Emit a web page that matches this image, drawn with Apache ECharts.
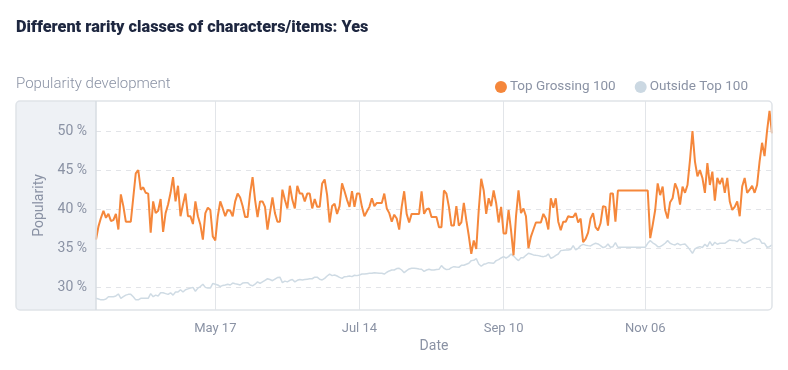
<!DOCTYPE html>
<html>
<head>
<meta charset="utf-8">
<script src="https://cdn.jsdelivr.net/npm/echarts@6/dist/echarts.min.js"></script>
<style>
html,body{margin:0;padding:0;background:#fff;}
#chart{width:788px;height:370px;}
</style>
</head>
<body>
<div id="chart"></div>
<script>
// ---- data ----
const startDate = '2019-03-30';
const seriesNames = ['Top Grossing 100', 'Outside Top 100'];
const topGrossing = [
36.1,37.8,38.9,39.8,38.9,39.4,38.5,38.6,39.4,37.4,41.9,40.4,38.4,38.4,38.4,41.5,44.6,45.0,42.5,42.8,
42.1,42.0,37.0,41.0,39.5,39.8,41.3,37.1,39.5,40.6,42.1,44.1,41.0,43.0,39.1,40.6,42.0,39.1,39.1,38.1,
41.0,39.1,38.0,36.1,39.5,40.2,39.9,36.5,36.0,39.1,41.0,40.1,39.1,39.9,39.8,39.1,41.0,42.0,41.5,40.4,
39.0,39.0,42.0,44.1,41.2,39.0,41.0,41.0,40.3,37.4,39.5,41.5,39.5,38.4,38.4,42.5,41.2,40.1,43.0,41.2,
40.1,43.0,42.0,42.0,41.0,42.0,42.0,40.1,41.3,40.3,40.3,43.3,43.8,41.8,38.3,40.4,40.7,39.4,40.4,43.3,
42.3,41.2,40.3,42.3,40.3,42.0,42.0,40.3,39.1,39.7,40.3,41.4,40.4,40.8,40.8,40.8,42.0,40.1,39.5,38.4,
39.3,38.8,37.4,40.3,42.3,39.4,38.3,39.4,39.4,39.4,39.4,42.3,39.4,40.0,40.1,39.0,39.0,39.0,37.7,37.7,
42.4,42.0,40.3,37.9,37.9,40.4,37.9,38.3,40.8,38.6,36.6,34.3,36.0,34.9,39.9,43.9,42.4,39.4,41.4,40.4,
42.4,40.8,38.3,40.3,36.9,36.9,39.9,37.3,34.1,39.1,42.4,39.5,40.1,39.1,35.0,36.5,37.4,38.3,38.3,38.3,
39.4,38.8,37.4,41.4,40.2,41.4,38.4,37.3,38.4,38.4,39.1,39.0,39.0,39.5,38.3,38.8,35.8,36.2,37.0,38.8,
39.5,37.7,37.3,38.2,40.4,40.3,37.9,42.0,42.0,38.4,42.4,42.4,42.4,42.4,42.4,42.4,42.4,42.4,42.4,42.4,
42.4,42.4,42.4,36.3,38.0,39.9,43.3,41.8,42.9,39.9,38.8,40.9,41.4,43.3,42.5,40.6,42.9,42.1,43.1,46.3,
50.0,46.1,44.2,45.0,44.0,42.1,45.9,43.1,44.8,41.1,44.0,43.2,44.0,42.1,44.0,41.0,39.9,40.3,41.0,39.1,
42.9,44.0,42.1,42.5,43.0,42.1,43.1,46.1,48.5,46.8,50.0,52.6,49.7
];
const outsideTop = [
28.6,28.5,28.4,28.4,28.5,28.8,28.8,28.8,28.9,29.15,28.6,28.8,29.0,29.1,29.1,28.8,28.4,28.4,28.6,28.6,
28.6,28.6,29.2,28.8,29.0,28.9,29.3,29.3,29.2,29.1,29.3,29.0,29.4,29.4,29.7,29.4,29.7,29.8,29.9,30.0,
29.5,29.9,30.1,30.4,30.0,29.9,29.9,30.5,30.4,30.3,30.1,30.25,30.3,30.4,30.3,30.55,30.45,30.4,30.3,30.55,
30.6,30.6,30.3,30.2,30.4,30.7,30.5,30.7,30.9,31.1,31.0,30.85,31.05,31.25,31.3,30.6,30.8,30.7,30.9,31.0,
30.7,30.9,31.0,30.95,31.0,31.05,31.1,31.1,31.3,31.3,31.03,30.94,31.15,31.45,31.7,31.5,31.58,31.45,31.28,31.15,
31.37,31.4,31.45,31.37,31.55,31.5,31.58,31.7,31.7,31.75,31.8,31.8,31.88,31.84,31.8,31.8,31.7,31.93,32.1,32.22,
32.22,32.4,32.44,32.22,31.88,32.14,32.35,32.44,32.44,32.4,32.35,32.31,32.05,32.22,32.31,32.22,32.22,32.27,32.3,32.78,
32.44,32.27,32.3,32.52,32.65,32.6,32.56,32.82,32.82,32.95,33.08,33.42,33.46,33.68,32.99,32.7,32.95,33.03,33.16,33.12,
33.08,33.42,33.55,33.76,33.93,33.76,33.93,34.27,34.0,33.68,33.42,33.8,33.8,34.1,34.36,34.27,34.15,34.1,34.06,33.97,
33.93,34.0,34.27,33.72,33.85,34.1,34.27,34.7,34.74,34.79,34.79,34.83,35.34,34.79,35.0,35.34,35.5,35.4,35.34,35.3,
35.5,35.64,35.55,35.34,35.08,35.2,35.55,35.13,35.2,35.73,35.13,35.13,35.13,35.13,35.13,35.13,35.13,35.13,35.13,35.13,
35.13,35.13,35.64,35.98,35.7,35.51,35.21,35.21,35.4,35.64,35.98,35.64,35.5,35.43,35.64,35.43,35.5,35.56,35.21,34.79,
34.36,34.91,35.1,35.21,35.09,35.51,35.21,35.85,35.34,35.77,35.51,35.64,35.64,35.64,35.85,36.07,36.0,35.98,35.85,36.2,
35.77,35.64,35.8,35.98,36.15,36.28,36.2,36.15,35.64,35.64,35.13,35.2,35.43
];
const xTickLabels = ['May 17', 'Jul 14', 'Sep 10', 'Nov 06'];
const yTickValues = [30, 35, 40, 45, 50];

// ---- build categories (one per day) ----
const monthNames = ['Jan','Feb','Mar','Apr','May','Jun','Jul','Aug','Sep','Oct','Nov','Dec'];
function dayLabel(d) {
  const dd = String(d.getUTCDate()).padStart(2, '0');
  return monthNames[d.getUTCMonth()] + ' ' + dd;
}
const categories = [];
{
  const d0 = new Date(startDate + 'T00:00:00Z');
  for (let i = 0; i < topGrossing.length; i++) {
    const d = new Date(d0.getTime() + i * 86400000);
    categories.push(dayLabel(d));
  }
}
const showTick = (idx, val) => xTickLabels.indexOf(categories[idx]) >= 0;

const FONT = 'Roboto, "Noto Sans", sans-serif';
const GREY = '#8a92a4';

const chart = echarts.init(document.getElementById('chart'), null, {renderer: 'canvas'});
chart.setOption({
  animation: false,
  backgroundColor: '#ffffff',
  textStyle: {fontFamily: FONT},
  title: [
    {text: 'Different rarity classes of characters/items: Yes', left: 11, top: 15,
     textStyle: {fontFamily: FONT, fontSize: 16.3, fontWeight: 900, color: '#1e2740'}},
    {text: 'Popularity development', left: 11, top: 72,
     textStyle: {fontFamily: FONT, fontSize: 15, fontWeight: 300, color: GREY}}
  ],
  legend: {
    data: seriesNames,
    right: 35, top: 75,
    icon: 'circle', itemWidth: 12, itemHeight: 12, itemGap: 19,
    textStyle: {fontFamily: FONT, fontSize: 13.5, color: GREY, padding: [0, 0, 0, -2]}
  },
  grid: {left: 96, right: 16, top: 101, bottom: 60},
  graphic: [
    {type: 'rect', z: -10, silent: true,
     shape: {x: 16, y: 101, width: 80, height: 209, r: [4, 0, 0, 4]},
     style: {fill: '#eef1f5'}},
    {type: 'rect', z: 100, silent: true,
     shape: {x: 16, y: 101, width: 756, height: 209, r: 4},
     style: {fill: 'none', stroke: '#dfe3e8', lineWidth: 1.5}},
    {type: 'line', z: 100, silent: true,
     shape: {x1: 96, y1: 101, x2: 96, y2: 310},
     style: {stroke: '#d7dce2', lineWidth: 1.5}}
  ],
  xAxis: {
    type: 'category',
    data: categories,
    boundaryGap: false,
    name: 'Date', nameLocation: 'middle', nameGap: 21,
    nameTextStyle: {fontFamily: FONT, fontSize: 14, color: GREY},
    axisLine: {show: false},
    axisTick: {show: false, interval: showTick},
    axisLabel: {interval: showTick, color: GREY, fontSize: 13, margin: 12, fontFamily: FONT},
    splitLine: {show: true, interval: showTick, lineStyle: {color: '#e2e5e9', width: 1}}
  },
  yAxis: {
    type: 'value',
    min: 27.1, max: 53.85,
    name: 'Popularity', nameLocation: 'middle', nameGap: 38,
    nameTextStyle: {fontFamily: FONT, fontSize: 14, color: GREY},
    axisLine: {show: false},
    axisTick: {show: false, customValues: yTickValues},
    axisLabel: {customValues: yTickValues, formatter: v => v + ' %', color: GREY, fontSize: 14, margin: 9, fontFamily: FONT},
    splitLine: {show: true, lineStyle: {color: '#e2e4e8', width: 1, type: [5, 5]}}
  },
  series: [
    {name: seriesNames[1], type: 'line', data: outsideTop, showSymbol: false, symbol: 'circle',
     color: '#cbd8e2', lineStyle: {width: 1.5, color: '#cfdbe4'}, z: 2},
    {name: seriesNames[0], type: 'line', data: topGrossing, showSymbol: false, symbol: 'circle',
     color: '#f5873b', lineStyle: {width: 2, color: '#f5873b'}, z: 3}
  ]
});
</script>
</body>
</html>
